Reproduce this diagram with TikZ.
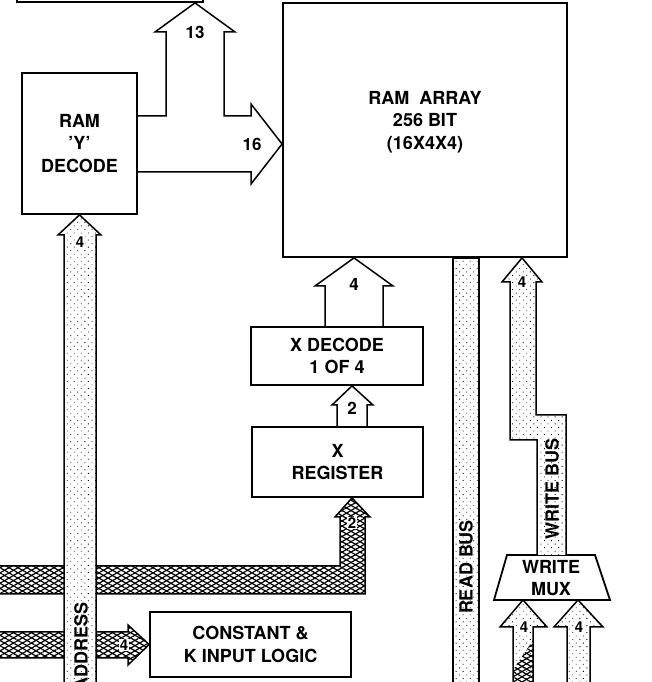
\documentclass[tikz,border=0pt]{standalone}
\usepackage{fontspec}
\setmainfont{TeX Gyre Heros}
\usetikzlibrary{calc,patterns.meta}

\begin{document}
\begin{tikzpicture}[x=1pt,y=1pt,line width=1.5pt,
    block/.style={draw,line width=1.8pt,align=center,inner sep=0pt,font=\fontsize{18}{22.5}\selectfont\bfseries},
    lbl/.style={inner sep=0.5pt,font=\fontsize{17}{17}\selectfont\bfseries},
    tag/.style={fill=white,inner sep=1pt,font=\fontsize{15}{15}\selectfont\bfseries},
    busname/.style={rotate=90,inner sep=0pt,font=\fontsize{18}{18}\selectfont\bfseries},
    dotbus/.style={preaction={fill=white},pattern={Dots[distance=5pt,angle=45,radius=0.6pt]}},
    meshbus/.style={preaction={fill=white},pattern={Lines[angle=30,distance=4.5pt,line width=1.2pt]},
        postaction={pattern={Lines[angle=-30,distance=4.5pt,line width=1.2pt]}}}]
    \useasboundingbox (0,0) rectangle (651,682);
    \node[block,minimum width=186pt,minimum height=40pt] (top) at (110,700) {};
    \node[block,minimum width=115pt,minimum height=141pt] (ydec) at (79.5,538.5) {RAM\\'Y'\\DECODE};
    \node[block,minimum width=284pt,minimum height=254pt] (ram) at (425,552) {};
    \node[block,draw=none] (ramtext) at (425,560) {RAM\ \ ARRAY\\256 BIT\\(16X4X4)};
    \node[block,minimum width=172pt,minimum height=58pt] (xdec) at (337,326) {X DECODE\\1 OF 4};
    \node[block,minimum width=171pt,minimum height=70pt] (xreg) at (337.5,220) {X\\REGISTER};
    \node[block,minimum width=201pt,minimum height=65pt] (const) at (250.5,37.5) {CONSTANT \&\\K INPUT LOGIC};
    \coordinate (muxtl) at (507,127);
    \coordinate (muxtr) at (595,127);
    \coordinate (muxbr) at (610,82);
    \coordinate (muxbl) at (494,82);
    \draw[line width=1.8pt] (muxtl) -- (muxtr) -- (muxbr) -- (muxbl) -- cycle;
    \node[block,draw=none] (mux) at (551,104) {WRITE\\MUX};
    \draw (ydec.east |- 0,566) -- (166,566) -- (166,650) -- (155,650) -- (195,0 |- top.south) -- (235,650) -- (224,650) -- (224,566) -- (251,566) -- (251,578) -- (ram.west |- 0,538) -- (251,498) -- (251,510) -- (ydec.east |- 0,510);
    \draw (325,0 |- xdec.north) -- (325,396) -- (315,396) -- (354,0 |- ram.south) -- (393,396) -- (383,396) -- (383,0 |- xdec.north);
    \draw (337,0 |- xreg.north) -- (337,277) -- (332,277) -- (352,0 |- xdec.south) -- (373,277) -- (367,277) -- (367,0 |- xreg.north);
    \draw[meshbus] (-5,88) -- (365,88) -- (365,165) -- (370,165) -- (352,0 |- xreg.south) -- (335,165) -- (340,165) -- (340,116) -- (-5,116) -- cycle;
    \draw[meshbus] (-5,24) -- (128,24) -- (128,17) -- (const.west) -- (128,57) -- (128,50) -- (-5,50) -- cycle;
    \draw[dotbus] (64,-5) -- (64,447) -- (58,447) -- (ydec.south) -- (101,447) -- (96,447) -- (96,-5) -- cycle;
    \draw[dotbus] (453,-5) -- (453,0 |- ram.south) -- (479,0 |- ram.south) -- (479,-5);
    \draw[dotbus] (537,0 |- muxtl) -- (537,242) -- (510,242) -- (510,400) -- (502,400) -- (522,0 |- ram.south) -- (542,400) -- (536,400) -- (536,267) -- (566,267) -- (566,0 |- muxtl);
    \draw[dotbus] (513,-5) -- (513,55) -- (500,55) -- (523,0 |- muxbl) -- (547,55) -- (533,55) -- (533,-5);
    \path[pattern={Lines[angle=30,distance=4.5pt,line width=1.2pt]},
        postaction={pattern={Lines[angle=-30,distance=4.5pt,line width=1.2pt]}}] (533,42) -- (533,-5) -- (513,-5) -- (513,12) -- cycle;
    \draw[dotbus] (567,-5) -- (567,55) -- (554,55) -- (578,0 |- muxbl) -- (603,55) -- (590,55) -- (590,-5);
    \node[lbl] (n13) at (195,650) {13};
    \node[lbl] (n16) at (252,538) {16};
    \node[lbl] (n4x) at (354,398) {4};
    \node[lbl] (n2x) at (352,274) {2};
    \node[tag] (n2m) at (352,159) {2};
    \node[tag] (n4a) at (80,440) {4};
    \node[tag] (n4c) at (124,37) {4};
    \node[tag] (n4w) at (522,400) {4};
    \node[tag] (n4l) at (524,55) {4};
    \node[tag] (n4r) at (579,55) {4};
    \node[busname] (rbus) at (466,115) {READ BUS};
    \node[busname] (wbus) at (552,193) {WRITE BUS};
    \node[busname,anchor=east] (abus) at (81,80) {ADDRESS};
\end{tikzpicture}
\end{document}
